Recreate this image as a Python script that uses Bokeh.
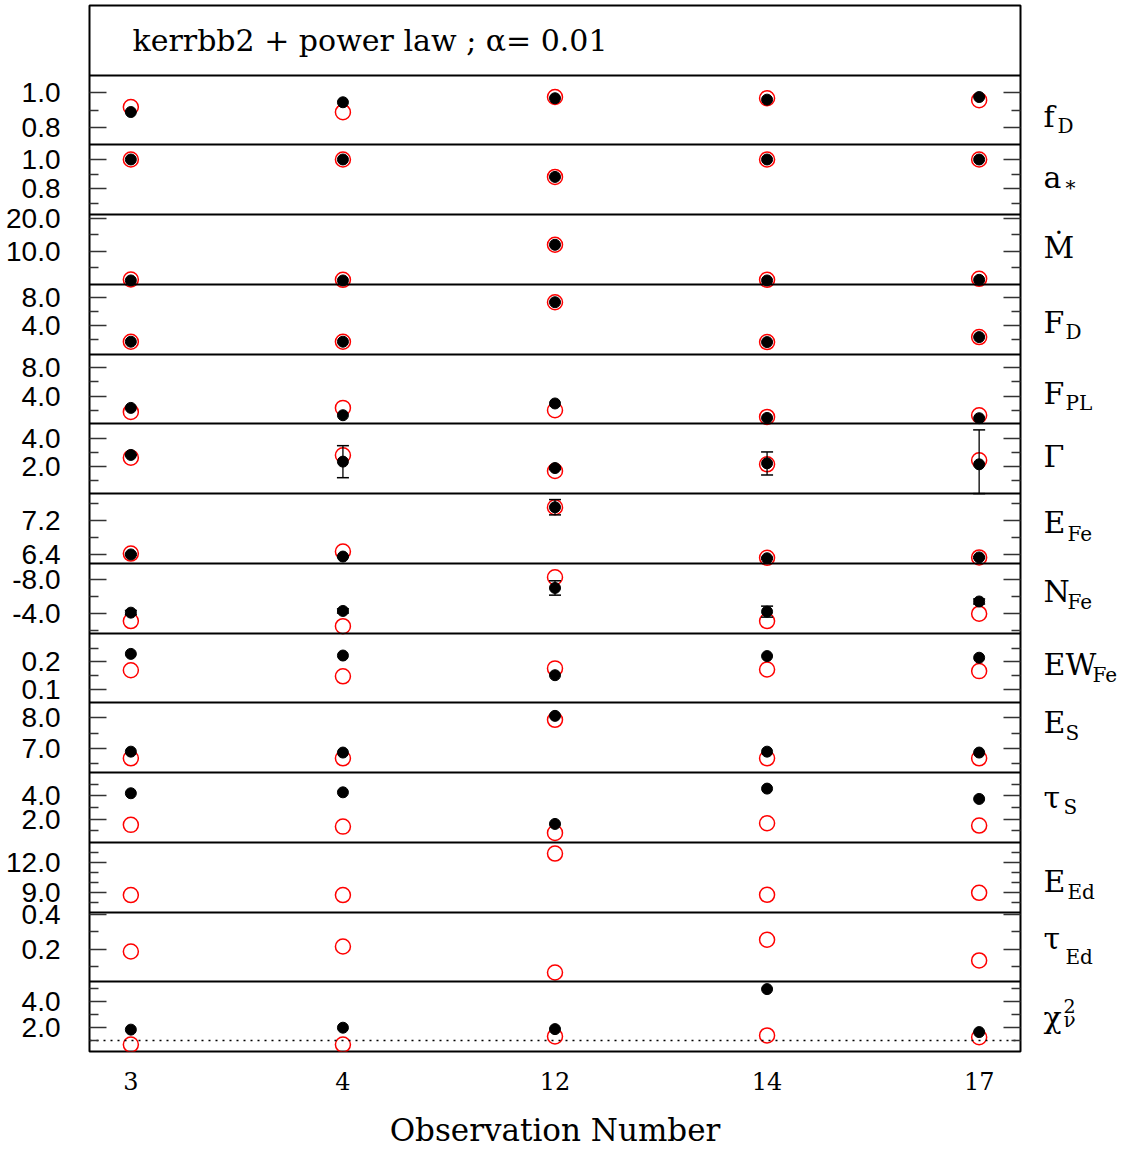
from bokeh.plotting import figure
from bokeh.models import Range1d, LinearAxis, FixedTicker, Label
from bokeh.layouts import row
from bokeh.core.properties import value
from bokeh.embed import file_html
from bokeh.resources import INLINE

# ---------------- data ----------------
obs = ["3", "4", "12", "14", "17"]

fD_fit = [0.889, 0.945, 0.968, 0.960, 0.975]
fD_ref = [0.918, 0.888, 0.975, 0.968, 0.957]

astar_fit = [1.0, 1.0, 0.88, 1.0, 1.0]
astar_ref = [1.0, 1.0, 0.88, 1.0, 1.0]

Mdot_fit = [1.1, 1.1, 11.9, 1.1, 1.3]
Mdot_ref = [1.4, 1.3, 11.9, 1.3, 1.6]

FD_fit = [1.75, 1.75, 7.3, 1.7, 2.4]
FD_ref = [1.75, 1.75, 7.3, 1.7, 2.4]

FPL_fit = [2.35, 1.32, 2.97, 0.94, 0.9]
FPL_ref = [1.78, 2.35, 2.02, 1.08, 1.3]

Gamma_fit = [2.82, 2.35, 1.9, 2.23, 2.16]
Gamma_err_lo = [0.0, 1.13, 0.1, 0.82, 2.06]
Gamma_err_hi = [0.0, 1.12, 0.1, 0.80, 2.42]
Gamma_ref = [2.63, 2.8, 1.69, 2.16, 2.44]

EFe_fit = [6.40, 6.35, 7.51, 6.31, 6.33]
EFe_err = [0.02, 0.02, 0.18, 0.02, 0.02]
EFe_ref = [6.42, 6.47, 7.51, 6.32, 6.33]

NFe_fit = [-4.12, -4.32, -7.04, -4.24, -5.44]
NFe_err = [0.25, 0.25, 0.85, 0.65, 0.3]
NFe_ref = [-3.12, -2.52, -8.31, -3.12, -4.0]

EWFe_fit = [0.229, 0.223, 0.151, 0.221, 0.215]
EWFe_ref = [0.169, 0.147, 0.176, 0.172, 0.166]

ES_fit = [6.89, 6.86, 8.07, 6.89, 6.86]
ES_ref = [6.67, 6.67, 7.94, 6.67, 6.67]

tauS_fit = [4.22, 4.30, 1.58, 4.62, 3.73]
tauS_ref = [1.50, 1.35, 0.81, 1.64, 1.44]

EEd_ref = [8.7, 8.7, 12.87, 8.73, 8.93]

tauEd_ref = [0.186, 0.215, 0.064, 0.254, 0.134]

chi2_fit = [1.83, 1.98, 1.87, 4.98, 1.64]
chi2_ref = [0.67, 0.67, 1.30, 1.38, 1.24]
chi2_line = [1.0]

title_text = "kerrbb2 + power law ; \u03b1= 0.01"
x_title = "Observation Number"

# panel axis limits (bottom value, top value)
panel_ranges = {
    "fD": (0.70, 1.10), "astar": (0.62, 1.10), "Mdot": (-0.1, 21.0),
    "FD": (0.0, 9.8), "FPL": (0.1, 9.9), "Gamma": (0.1, 5.0),
    "EFe": (6.19, 7.83), "NFe": (-1.7, -9.95), "EWFe": (0.05, 0.305),
    "ES": (6.2, 8.5), "tauS": (0.0, 6.0), "EEd": (7.0, 14.0),
    "tauEd": (0.01, 0.415), "chi2": (0.13, 5.55),
}
major_ticks = {
    "fD": [0.8, 1.0], "astar": [0.8, 1.0], "Mdot": [10, 20], "FD": [4, 8],
    "FPL": [4, 8], "Gamma": [2, 4], "EFe": [6.4, 7.2], "NFe": [-8, -4],
    "EWFe": [0.1, 0.2], "ES": [7, 8], "tauS": [2, 4], "EEd": [9, 12],
    "tauEd": [0.2, 0.4], "chi2": [2, 4],
}
minor_ticks = {
    "fD": [0.9], "astar": [0.7, 0.9], "Mdot": [5, 15], "FD": [2, 6],
    "FPL": [2, 6], "Gamma": [1, 3], "EFe": [6.8, 7.6], "NFe": [-6, -2],
    "EWFe": [0.15, 0.25], "ES": [6.5, 7.5], "tauS": [1, 3, 5],
    "EEd": [8, 10, 11, 13], "tauEd": [0.1, 0.3], "chi2": [1, 3, 5],
}

# name, best-fit values, (lower err, upper err), reference-model values
panels = [
    ("fD", fD_fit, None, fD_ref), ("astar", astar_fit, None, astar_ref),
    ("Mdot", Mdot_fit, None, Mdot_ref), ("FD", FD_fit, None, FD_ref),
    ("FPL", FPL_fit, None, FPL_ref),
    ("Gamma", Gamma_fit, (Gamma_err_lo, Gamma_err_hi), Gamma_ref),
    ("EFe", EFe_fit, (EFe_err, EFe_err), EFe_ref),
    ("NFe", NFe_fit, (NFe_err, NFe_err), NFe_ref),
    ("EWFe", EWFe_fit, None, EWFe_ref), ("ES", ES_fit, None, ES_ref),
    ("tauS", tauS_fit, None, tauS_ref), ("EEd", None, None, EEd_ref),
    ("tauEd", None, None, tauEd_ref), ("chi2", chi2_fit, None, chi2_ref),
]

# right-hand labels: main symbol, subscript, superscript
lab_main = ["f", "a", "\u1e40", "F", "F", "\u0393", "E", "N", "EW", "E", "\u03c4", "E", "\u03c4", "\u03c7"]
lab_sub = ["D", "*", "", "D", "PL", "", "Fe", "Fe", "Fe", "S", "S", "Ed", "Ed", "\u03bd"]
lab_sup = ["", "", "", "", "", "", "", "", "", "", "", "", "", "2"]

# ---------------- style / layout ----------------
SHIFT = -11
main_dy = [v + SHIFT for v in [17, 9, 9, 14, 15, 9, 5, 4, 8, -4, 1, 15, 3, 12]]
sub_dy = [v + SHIFT for v in [27, 19, 0, 24, 25, 0, 16, 15, 18, 6, 11, 26, 21, 14]]
sub_dx = [14, 22, 0, 22, 22, 0, 24, 24, 49, 22, 20, 24, 22, 20]
sup_dy = 0 + SHIFT

NP = len(panels)
xi = list(range(len(obs)))
W_MAIN = 1030
W_SIDE = 1124 - W_MAIN

p = figure(width=W_MAIN, height=1150, x_range=Range1d(-0.195, 4.195),
           y_range=Range1d(0, NP + 1), output_backend="svg", toolbar_location=None,
           min_border_left=89, min_border_right=10, min_border_top=5,
           min_border_bottom=99, x_axis_location=None, y_axis_location=None,
           background_fill_color="white", border_fill_color="white")
p.grid.visible = False
p.outline_line_color = "black"
p.outline_line_width = 2

maj_pos, min_pos, ovr = [], [], {}
for i, (name, fit, err, ref) in enumerate(panels):
    lo, hi = panel_ranges[name]
    d = hi - lo
    base = NP - 1 - i
    p.extra_y_ranges[name] = Range1d(start=lo - base * d, end=lo + (i + 2) * d)
    for v in major_ticks[name]:
        m = round(base + (v - lo) / d, 6)
        maj_pos.append(m)
        ovr[m] = f"{v:.1f}"
    for v in minor_ticks[name]:
        min_pos.append(round(base + (v - lo) / d, 6))

    p.scatter(xi, ref, marker="circle", size=15, fill_color=None, line_color="red",
              line_width=1.5, y_range_name=name)
    if err is not None:
        e_lo, e_hi = err
        lo_e = [f - e for f, e in zip(fit, e_lo)]
        hi_e = [f + e for f, e in zip(fit, e_hi)]
        p.segment(x0=xi, y0=lo_e, x1=xi, y1=hi_e, line_color="black", line_width=1.3,
                  y_range_name=name)
        p.scatter(xi + xi, lo_e + hi_e, marker="dash", size=12, line_color="black",
                  line_width=1.5, y_range_name=name)
    if fit is not None:
        p.scatter(xi, fit, marker="circle", size=11, fill_color="black",
                  line_color="black", y_range_name=name)

# dividers between panels
p.hspan(y=list(range(1, NP + 1)), line_color="black", line_width=2)
# chi2 = 1 reference line
p.hspan(y=chi2_line, y_range_name="chi2", line_color="black", line_width=1.5,
        line_dash="2 5")

# title inside top box
p.add_layout(Label(x=0.008, y=NP + 0.5, text=title_text, text_font="DejaVu Serif",
                   text_font_size="30px", text_baseline="middle", text_align="left",
                   text_color="black"))

tick_style = dict(major_tick_in=17, major_tick_out=0, minor_tick_in=9, minor_tick_out=0,
                  major_tick_line_color="#333333", minor_tick_line_color="#333333",
                  major_tick_line_width=1.5, minor_tick_line_width=1.5,
                  axis_line_color=None)

yl = LinearAxis(ticker=FixedTicker(ticks=maj_pos, minor_ticks=min_pos),
                major_label_overrides=ovr, major_label_standoff=29,
                major_label_text_font="Liberation Sans", major_label_text_font_size="28px",
                major_label_text_color="black", **tick_style)
p.add_layout(yl, "left")

yr = LinearAxis(ticker=FixedTicker(ticks=maj_pos, minor_ticks=min_pos),
                major_label_overrides={m: "" for m in maj_pos},
                major_label_standoff=0, **tick_style)
p.add_layout(yr, "right")

xb = LinearAxis(ticker=FixedTicker(ticks=xi, minor_ticks=[]),
                major_label_overrides={i: o for i, o in enumerate(obs)},
                major_tick_in=0, major_tick_out=0, minor_tick_in=0, minor_tick_out=0,
                axis_line_color=None, major_label_standoff=20,
                major_label_text_font="DejaVu Serif", major_label_text_font_size="24px",
                major_label_text_color="black",
                axis_label=x_title, axis_label_standoff=19,
                axis_label_text_font="DejaVu Serif", axis_label_text_font_size="31px",
                axis_label_text_font_style="normal", axis_label_text_color="black")
p.add_layout(xb, "below")

# ---------------- side panel with the parameter names ----------------
s = figure(width=W_SIDE, height=1150, x_range=Range1d(0, W_SIDE), y_range=Range1d(0, NP + 1),
           output_backend="svg", toolbar_location=None, min_border_left=0,
           min_border_right=0, min_border_top=5, min_border_bottom=99,
           x_axis_location=None, y_axis_location=None, outline_line_color=None,
           background_fill_color="white", border_fill_color="white")
s.grid.visible = False

LX = 13
centers = [NP - 1 - i + 0.5 for i in range(NP)]
s.text(x=[LX] * NP, y=centers, text=lab_main, y_offset=main_dy,
       text_font=value("DejaVu Serif"), text_font_size=value("30px"),
       text_baseline="alphabetic", text_align="left", text_color="black")
sub_idx = [i for i in range(NP) if lab_sub[i]]
s.text(x=[LX] * len(sub_idx), y=[centers[i] for i in sub_idx],
       text=[lab_sub[i] for i in sub_idx], x_offset=[sub_dx[i] for i in sub_idx],
       y_offset=[sub_dy[i] for i in sub_idx],
       text_font=value("DejaVu Serif"), text_font_size=value("20px"),
       text_baseline="alphabetic", text_align="left", text_color="black")
sup_idx = [i for i in range(NP) if lab_sup[i]]
s.text(x=[LX] * len(sup_idx), y=[centers[i] for i in sup_idx],
       text=[lab_sup[i] for i in sup_idx], x_offset=[sub_dx[i] for i in sup_idx],
       y_offset=[sup_dy] * len(sup_idx),
       text_font=value("DejaVu Serif"), text_font_size=value("19px"),
       text_baseline="alphabetic", text_align="left", text_color="black")

layout = row(p, s, spacing=0)
open("out.html", "w").write(file_html(layout, INLINE))
